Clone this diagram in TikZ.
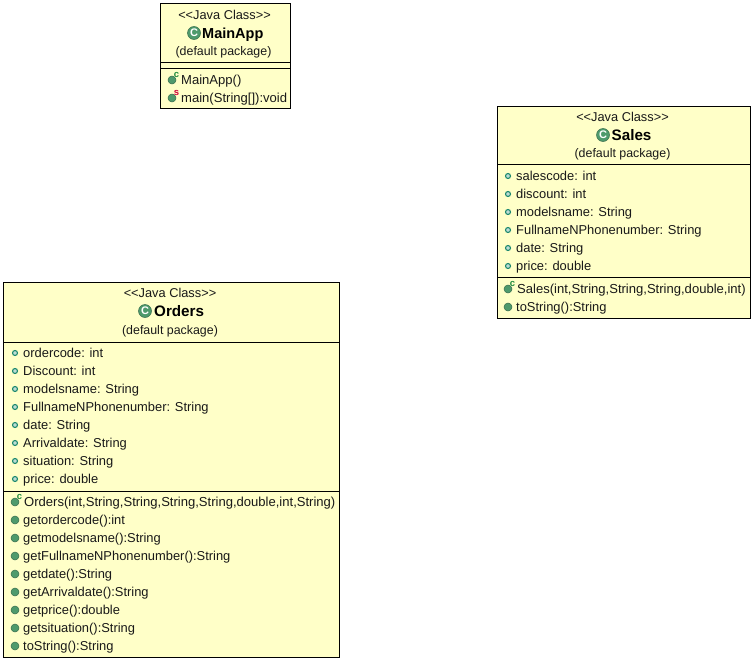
\documentclass[tikz,border=0pt]{standalone}
\usepackage{fontspec}
\setmainfont{Liberation Sans}
\definecolor{classfill}{HTML}{FFFFC8}
\definecolor{methgreen}{HTML}{4E9A6C}
\definecolor{fieldteal}{HTML}{1F8A70}
\definecolor{markred}{HTML}{D0003C}
\definecolor{markgreen}{HTML}{1E8A3C}
\tikzset{
  classbox/.style={draw=black,fill=classfill,line width=0.9pt,rectangle,inner sep=0pt},
  sep/.style={draw=black,line width=0.9pt},
  head/.style={font=\fontsize{12.8}{12.8}\selectfont,inner sep=0pt,text height=10.5pt,text depth=1.5pt,text=black!90},
  pkg/.style={font=\fontsize{12.4}{12.4}\selectfont,inner sep=0pt,text height=10.5pt,text depth=1.5pt,text=black!90},
  title/.style={font=\fontsize{14.5}{14.5}\selectfont\bfseries,inner sep=0pt,anchor=west,text height=12pt,text depth=2pt},
  bigtitle/.style={title,font=\fontsize{15.2}{15.2}\selectfont\bfseries},
  member/.style={font=\fontsize{12.9}{12.9}\selectfont,inner sep=0pt,anchor=west,text height=10.5pt,text depth=1.5pt,text=black!90},
  ctortext/.style={member,font=\fontsize{13.05}{13.05}\selectfont},
  fieldicon/.style={circle,draw=fieldteal,fill=fieldteal!30,line width=1.1pt,minimum size=5pt,inner sep=0pt},
  methicon/.style={circle,draw=methgreen!70!black,fill=methgreen,line width=0.5pt,minimum size=8pt,inner sep=0pt},
  classicon/.style={circle,fill=methgreen,draw=methgreen!70!black,line width=0.5pt,minimum size=13pt,inner sep=0pt,text=white,font=\fontsize{11}{11}\selectfont\bfseries},
  ctormark/.style={font=\fontsize{9.5}{9.5}\selectfont\bfseries,inner sep=0pt},
}
\newcommand{\fieldline}[4]{%
  \node[fieldicon] (#1i) at (#2,#3) {};
  \node[member] (#1t) at (#2+8,#3) {#4};}
\newcommand{\methline}[4]{%
  \node[methicon] (#1i) at (#2,#3) {};
  \node[member] (#1t) at (#2+8,#3) {#4};}
\newcommand{\ctorline}[6]{%
  \node[methicon] (#1i) at (#2,#3) {};
  \node[ctortext] (#1t) at (#2+9,#3) {#4};
  \node[ctormark,text=#5] (#1m) at (#2+4.5,#3-5) {#6};}
\begin{document}
\begin{tikzpicture}[x=1pt,y=-1pt]
\useasboundingbox (0,0) rectangle (754,661);
% MainApp
\node[classbox,minimum width=130pt,minimum height=105pt] (mainbox) at (225,55.5) {};
\node[head] (mainst) at (224.5,15) {<{}<Java Class>{}>};
\node[classicon] (mainic) at (194,33) {C};
\node[title] (maint) at (202,33) {MainApp};
\node[pkg] (mainpk) at (223.5,51) {(default package)};
\draw[sep] (160,62) -- (290,62);
\draw[sep] (160,68) -- (290,68);
\ctorline{mc}{172}{80}{MainApp()}{markgreen}{c}
\ctorline{mm}{172}{98}{main(String[]):void}{markred}{s}
% Sales
\node[classbox,minimum width=253pt,minimum height=212pt] (salesbox) at (623.5,212) {};
\node[head] (salesst) at (622.5,117) {<{}<Java Class>{}>};
\node[classicon] (salesic) at (603,135) {C};
\node[bigtitle] (salest) at (611.5,135) {Sales};
\node[pkg] (salespk) at (622.5,153) {(default package)};
\draw[sep] (497,164) -- (750,164);
\fieldline{sa}{508}{176}{salescode: int}
\fieldline{sb}{508}{194}{discount: int}
\fieldline{sc}{508}{212}{modelsname: String}
\fieldline{sd}{508}{230}{FullnameNPhonenumber: String}
\fieldline{se}{508}{248}{date: String}
\fieldline{sf}{508}{266}{price: double}
\draw[sep] (497,277) -- (750,277);
\ctorline{sg}{508}{289}{Sales(int,String,String,String,double,int)}{markgreen}{c}
\methline{sh}{508}{307}{toString():String}
% Orders
\node[classbox,minimum width=336pt,minimum height=375pt] (ordbox) at (171,469.5) {};
\node[head] (ordst) at (170,293) {<{}<Java Class>{}>};
\node[classicon] (ordic) at (145,311) {C};
\node[bigtitle] (ordt) at (154,311) {Orders};
\node[pkg] (ordpk) at (170,330) {(default package)};
\draw[sep] (3,342) -- (339,342);
\fieldline{oa}{15}{353}{ordercode: int}
\fieldline{ob}{15}{371}{Discount: int}
\fieldline{oc}{15}{389}{modelsname: String}
\fieldline{od}{15}{407}{FullnameNPhonenumber: String}
\fieldline{oe}{15}{425}{date: String}
\fieldline{of}{15}{443}{Arrivaldate: String}
\fieldline{og}{15}{461}{situation: String}
\fieldline{oh}{15}{479}{price: double}
\draw[sep] (3,491) -- (339,491);
\ctorline{pa}{15}{502}{Orders(int,String,String,String,String,double,int,String)}{markgreen}{c}
\methline{pb}{15}{520}{getordercode():int}
\methline{pc}{15}{538}{getmodelsname():String}
\methline{pd}{15}{556}{getFullnameNPhonenumber():String}
\methline{pe}{15}{574}{getdate():String}
\methline{pf}{15}{592}{getArrivaldate():String}
\methline{pg}{15}{610}{getprice():double}
\methline{ph}{15}{628}{getsituation():String}
\methline{pi}{15}{646}{toString():String}
\end{tikzpicture}
\end{document}
